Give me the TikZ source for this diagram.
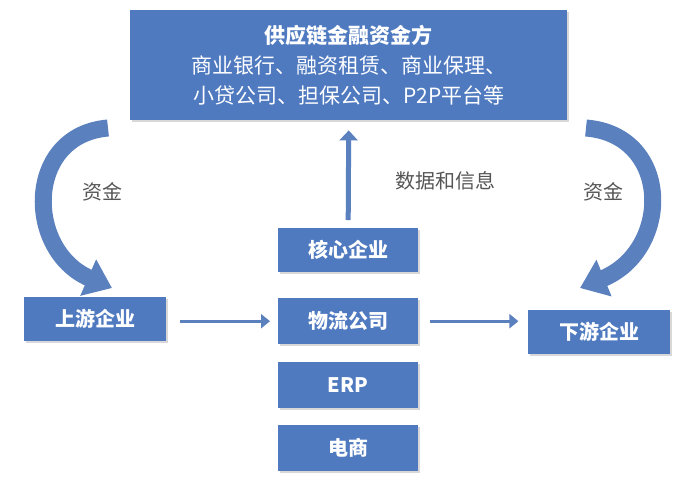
\documentclass[tikz,border=0pt]{standalone}
\usepackage{fontspec}
\setmainfont{Noto Sans CJK SC}
\usetikzlibrary{arrows.meta,shadows,calc}
\definecolor{boxc}{HTML}{4F7AC0}
\definecolor{arrc}{HTML}{5B80BE}
\definecolor{txt}{HTML}{555555}
\tikzset{
 bx/.style={fill=boxc,text=white,font=\fontsize{20}{24}\selectfont\bfseries,inner sep=0,drop shadow={shadow xshift=1.5pt,shadow yshift=-1.5pt,fill=black!30}},
 flow/.style={arrc,line width=3pt,-{Triangle[length=9pt,width=14pt]}},
 big/.style={arrc,line width=17pt,-{Triangle[length=26pt,width=38pt]}},
 lab/.style={text=txt,font=\fontsize{20}{24}\selectfont}
}
\begin{document}
\begin{tikzpicture}[x=1pt,y=-1pt]
\useasboundingbox (0,0) rectangle (700,490);
\node[bx,minimum width=437,minimum height=110,anchor=north west,align=center,font=\fontsize{21}{30}\selectfont\bfseries] (top) at (130,10) {供应链金融资金方\\\mdseries 商业银行、融资租赁、商业保理、\\\mdseries 小贷公司、担保公司、P2P平台等};
\node[bx,minimum width=140,minimum height=44,anchor=north west] (core) at (278,228) {核心企业};
\node[bx,minimum width=140,minimum height=46,anchor=north west] (log) at (278,298) {物流公司};
\node[bx,minimum width=140,minimum height=46,anchor=north west] (erp) at (278,362) {ERP};
\node[bx,minimum width=140,minimum height=46,anchor=north west] (ec) at (278,425) {电商};
\node[bx,minimum width=142,minimum height=44,anchor=north west] (up) at (24,297) {上游企业};
\node[bx,minimum width=142,minimum height=44,anchor=north west] (down) at (528,310) {下游企业};
\draw[flow] ($(up.east)+(14,2)$) -- ($(log.west)+(-8,0)$);
\draw[flow] ($(log.east)+(12,0)$) -- ($(log.east)+(100,0)$);
\draw[arrc,line width=5pt,-{Triangle[length=10pt,width=18pt]}] ($(core.north)+(0,-8)$) -- ($(top.south)+(0,10)$);
\coordinate (l0) at (108,128);
\coordinate (l1) at (112,288);
\coordinate (r0) at (586,128);
\coordinate (r1) at (580,288);
\draw[big] (l0) .. controls (25,135) and (25,250) .. (l1);
\draw[big] (r0) .. controls (672,135) and (672,250) .. (r1);
\node[lab] (z1) at (102,192) {资金};
\node[lab] (z2) at (603,192) {资金};
\node[lab] (info) at (445,181) {数据和信息};
\end{tikzpicture}
\end{document}
